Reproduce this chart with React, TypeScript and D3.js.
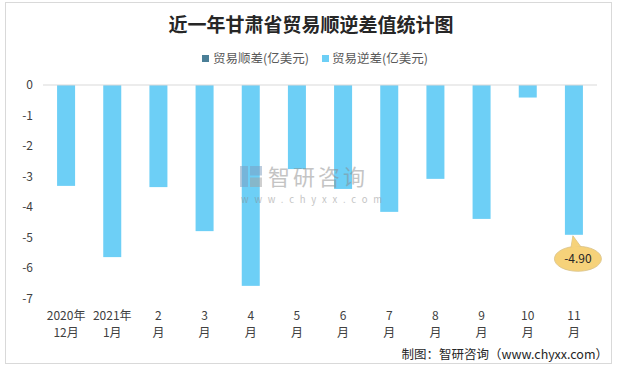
import React from 'react';
import * as d3 from 'd3';

const months = ['2020年12月', '2021年1月', '2月', '3月', '4月', '5月', '6月', '7月', '8月', '9月', '10月', '11月'];
const labelTop = ['2020年', '2021年', '2', '3', '4', '5', '6', '7', '8', '9', '10', '11'];
const labelBottom = ['12月', '1月', '月', '月', '月', '月', '月', '月', '月', '月', '月', '月'];
const surplus = [0, 0, 0, 0, 0, 0, 0, 0, 0, 0, 0, 0];
const deficit = [-3.3, -5.63, -3.34, -4.78, -6.57, -2.75, -3.4, -4.15, -3.07, -4.38, -0.41, -4.9];
const yTicks = [0, -1, -2, -3, -4, -5, -6, -7];

const App = () => {
  const width = 618;
  const height = 369;
  const font = '"Noto Sans CJK SC", "Noto Sans", sans-serif';
  const barBlue = '#6DCFF6';
  const darkBlue = '#4B7F97';

  const xScale = d3
    .scaleBand<string>()
    .domain(months)
    .range([43, 597])
    .paddingInner(0.61)
    .paddingOuter(0.305);

  const yScale = d3.scaleLinear().domain([-7, 0]).range([299, 85]);

  const last = months.length - 1;
  const lastX = (xScale(months[last]) as number) + xScale.bandwidth() / 2;
  const lastY = yScale(deficit[last]);
  const cx = lastX + 4;
  const cy = lastY + 24;

  return (
    <svg
      width={width}
      height={height}
      viewBox={`0 0 ${width} ${height}`}
      style={{ position: 'absolute', left: 0, top: 0 }}
    >
      <rect x={0} y={0} width={width} height={height} fill='#fff' />
      <rect x={5.5} y={2.5} width={606} height={361} fill='#fff' stroke='#d9d9d9' />

      <text
        x={311}
        y={32}
        textAnchor='middle'
        fontFamily={font}
        fontWeight={700}
        fontSize={19}
        fill='#262626'
      >
        近一年甘肃省贸易顺逆差值统计图
      </text>

      <g fontFamily={font} fontSize={12.5} fill='#595959'>
        <rect x={202} y={55} width={7} height={7} fill={darkBlue} />
        <text x={213} y={63}>贸易顺差(亿美元)</text>
        <rect x={322} y={55} width={7} height={7} fill={barBlue} />
        <text x={332} y={63}>贸易逆差(亿美元)</text>
      </g>

      <g fontFamily={font} fontSize={12} fill='#404040' textAnchor='end'>
        {yTicks.map(t => (
          <text key={`yt-${t}`} x={33} y={yScale(t) + 4}>
            {t}
          </text>
        ))}
      </g>

      {surplus.map((d, i) =>
        d > 0 ? (
          <rect
            key={`sur-${i}`}
            x={xScale(months[i])}
            y={yScale(d)}
            width={xScale.bandwidth()}
            height={yScale(0) - yScale(d)}
            fill={darkBlue}
          />
        ) : null
      )}
      {deficit.map((d, i) => (
        <rect
          key={`def-${i}`}
          x={xScale(months[i])}
          y={yScale(0)}
          width={xScale.bandwidth()}
          height={yScale(d) - yScale(0)}
          fill={barBlue}
        />
      ))}

      <line x1={43} x2={597} y1={yScale(0)} y2={yScale(0)} stroke='#d9d9d9' />

      {/* watermark, drawn over the bars */}
      <g opacity={0.5}>
        <rect x={240} y={166} width={8} height={21} fill='#7d9cbf' />
        <rect x={250} y={166} width={12} height={9.5} fill='#7d9cbf' />
        <rect x={250} y={177.5} width={12} height={9.5} fill='#a0a0a0' />
        <text x={268} y={185} fontFamily={font} fontSize={22} letterSpacing={3} fill='#8a8a8a'>
          智研咨询
        </text>
        <text x={241} y={203} fontFamily={font} fontSize={9.5} letterSpacing={5.8} fill='#8a8a8a'>
          www.chyxx.com
        </text>
      </g>

      <g fontFamily={font} fontSize={12} fill='#404040' textAnchor='middle'>
        {months.map((m, i) => {
          const x = (xScale(m) as number) + xScale.bandwidth() / 2;
          return (
            <g key={`xl-${i}`}>
              <text x={x} y={320}>{labelTop[i]}</text>
              <text x={x} y={337}>{labelBottom[i]}</text>
            </g>
          );
        })}
      </g>

      {/* callout for the last value */}
      <g>
        <path
          d={`M${lastX - 1},${lastY + 1} L${cx - 7},${cy - 11} L${cx + 3},${cy - 12} Z`}
          fill='#F6D27A'
          stroke='#d8c189'
          strokeWidth={0.8}
        />
        <ellipse cx={cx} cy={cy} rx={23.5} ry={12.5} fill='#F6D27A' stroke='#d8c189' strokeWidth={0.8} />
        <path
          d={`M${lastX - 1},${lastY + 2} L${cx - 6.5},${cy - 11.5} L${cx + 2.5},${cy - 12.2} Z`}
          fill='#F6D27A'
        />
        <text x={cx} y={cy + 4} textAnchor='middle' fontFamily={font} fontSize={12} fill='#262626'>
          {deficit[last].toFixed(2)}
        </text>
      </g>

      <text
        x={608}
        y={359}
        textAnchor='end'
        fontFamily={'"Noto Sans CJK SC", "DejaVu Sans Mono", monospace'}
        fontSize={12.5}
        fill='#262626'
      >
        制图：智研咨询（www.chyxx.com）
      </text>
    </svg>
  );
};

export default App;
